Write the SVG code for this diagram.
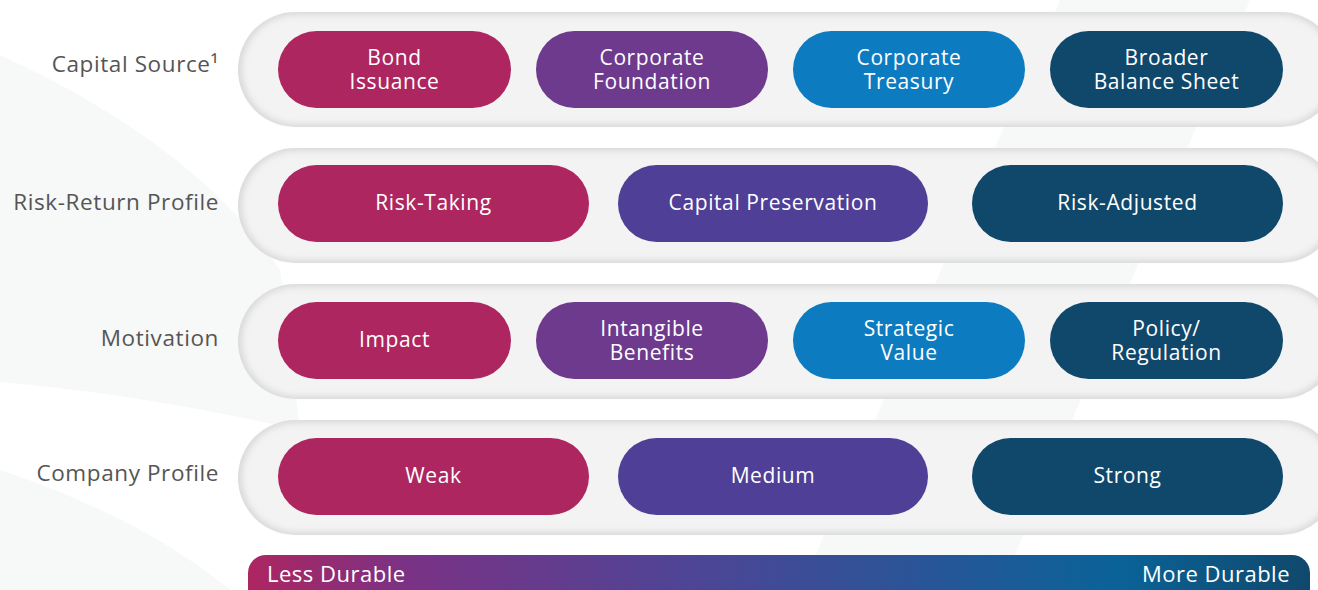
<svg xmlns="http://www.w3.org/2000/svg" width="1318" height="590" viewBox="0 0 1318 590">
<defs>
<style>
.lbl{font-family:"Open Sans","Liberation Sans",sans-serif;font-size:22.5px;letter-spacing:0.6px;fill:#555555;text-anchor:end}
.t{font-family:"Open Sans","Liberation Sans",sans-serif;font-size:21px;letter-spacing:0.6px;fill:#ffffff;text-anchor:middle}
.edge{fill:#d9d9d9}
.track{fill:#f3f3f3;filter:url(#soft)}
.c1{fill:#ad2660}.c2{fill:#6e3a8e}.c3{fill:#0c7bc0}.c4{fill:#10486c}.c5{fill:#4f3f96}
.bt{font-family:"Open Sans","Liberation Sans",sans-serif;font-size:22px;letter-spacing:0.5px;fill:#ffffff}
</style>
<filter id="soft" x="-5%" y="-20%" width="110%" height="140%"><feGaussianBlur stdDeviation="3"/></filter>
<linearGradient id="bar" x1="248" y1="0" x2="1310" y2="0" gradientUnits="userSpaceOnUse">
<stop offset="0" stop-color="#ad2660"/>
<stop offset="0.15" stop-color="#7a3285"/>
<stop offset="0.42" stop-color="#4d4596"/>
<stop offset="0.82" stop-color="#0a6398"/>
<stop offset="1" stop-color="#10486c"/>
</linearGradient>
</defs>
<rect width="1318" height="590" fill="#ffffff"/>
<g id="background" fill="#f7f8f8">
<path d="M0,55 C120,110 220,180 280,270 L300,430 C190,405 90,390 0,382 Z"/>
<path d="M1060,0 L1250,0 L1000,590 L800,590 Z"/>
<path d="M0,470 C90,500 170,540 230,590 L0,590 Z"/>
</g>
<g id="rows">
<g id="row-capital-source">
<rect class="edge" x="238" y="12" width="1100" height="115" rx="57.5"/>
<rect class="track" x="242" y="15" width="1092" height="109" rx="54"/>
<text class="lbl" x="219" y="72">Capital Source¹</text>
</g>
<g id="row-risk-return">
<rect class="edge" x="238" y="148" width="1100" height="115" rx="57.5"/>
<rect class="track" x="242" y="151" width="1092" height="109" rx="54"/>
<text class="lbl" x="219" y="210">Risk-Return Profile</text>
</g>
<g id="row-motivation">
<rect class="edge" x="238" y="284" width="1100" height="115" rx="57.5"/>
<rect class="track" x="242" y="287" width="1092" height="109" rx="54"/>
<text class="lbl" x="219" y="346">Motivation</text>
</g>
<g id="row-company-profile">
<rect class="edge" x="238" y="420" width="1100" height="115" rx="57.5"/>
<rect class="track" x="242" y="423" width="1092" height="109" rx="54"/>
<text class="lbl" x="219" y="481">Company Profile</text>
</g>
</g>
<g id="node-bond-issuance"><rect class="c1" x="278" y="31" width="233" height="77" rx="38.5"/><text class="t" x="394.5" y="65">Bond</text><text class="t" x="394.5" y="89">Issuance</text></g>
<g id="node-corporate-foundation"><rect class="c2" x="536" y="31" width="232" height="77" rx="38.5"/><text class="t" x="652" y="65">Corporate</text><text class="t" x="652" y="89">Foundation</text></g>
<g id="node-corporate-treasury"><rect class="c3" x="793" y="31" width="232" height="77" rx="38.5"/><text class="t" x="909" y="65">Corporate</text><text class="t" x="909" y="89">Treasury</text></g>
<g id="node-broader-balance-sheet"><rect class="c4" x="1050" y="31" width="233" height="77" rx="38.5"/><text class="t" x="1166.5" y="65">Broader</text><text class="t" x="1166.5" y="89">Balance Sheet</text></g>
<g id="node-risk-taking"><rect class="c1" x="278" y="165" width="311" height="77" rx="38.5"/><text class="t" x="433.5" y="210">Risk-Taking</text></g>
<g id="node-capital-preservation"><rect class="c5" x="618" y="165" width="310" height="77" rx="38.5"/><text class="t" x="773" y="210">Capital Preservation</text></g>
<g id="node-risk-adjusted"><rect class="c4" x="972" y="165" width="311" height="77" rx="38.5"/><text class="t" x="1127.5" y="210">Risk-Adjusted</text></g>
<g id="node-impact"><rect class="c1" x="278" y="302" width="233" height="77" rx="38.5"/><text class="t" x="394.5" y="347">Impact</text></g>
<g id="node-intangible-benefits"><rect class="c2" x="536" y="302" width="232" height="77" rx="38.5"/><text class="t" x="652" y="336">Intangible</text><text class="t" x="652" y="360">Benefits</text></g>
<g id="node-strategic-value"><rect class="c3" x="793" y="302" width="232" height="77" rx="38.5"/><text class="t" x="909" y="336">Strategic</text><text class="t" x="909" y="360">Value</text></g>
<g id="node-policy-regulation"><rect class="c4" x="1050" y="302" width="233" height="77" rx="38.5"/><text class="t" x="1166.5" y="336">Policy/</text><text class="t" x="1166.5" y="360">Regulation</text></g>
<g id="node-weak"><rect class="c1" x="278" y="438" width="311" height="77" rx="38.5"/><text class="t" x="433.5" y="483">Weak</text></g>
<g id="node-medium"><rect class="c5" x="618" y="438" width="310" height="77" rx="38.5"/><text class="t" x="773" y="483">Medium</text></g>
<g id="node-strong"><rect class="c4" x="972" y="438" width="311" height="77" rx="38.5"/><text class="t" x="1127.5" y="483">Strong</text></g>
<g id="connectors"></g>
<g id="durability-scale">
<rect x="248" y="555" width="1062" height="60" rx="18" fill="url(#bar)"/>
<text class="bt" x="267" y="582">Less Durable</text>
<text class="bt" x="1290" y="582" text-anchor="end">More Durable</text>
</g>
</svg>
